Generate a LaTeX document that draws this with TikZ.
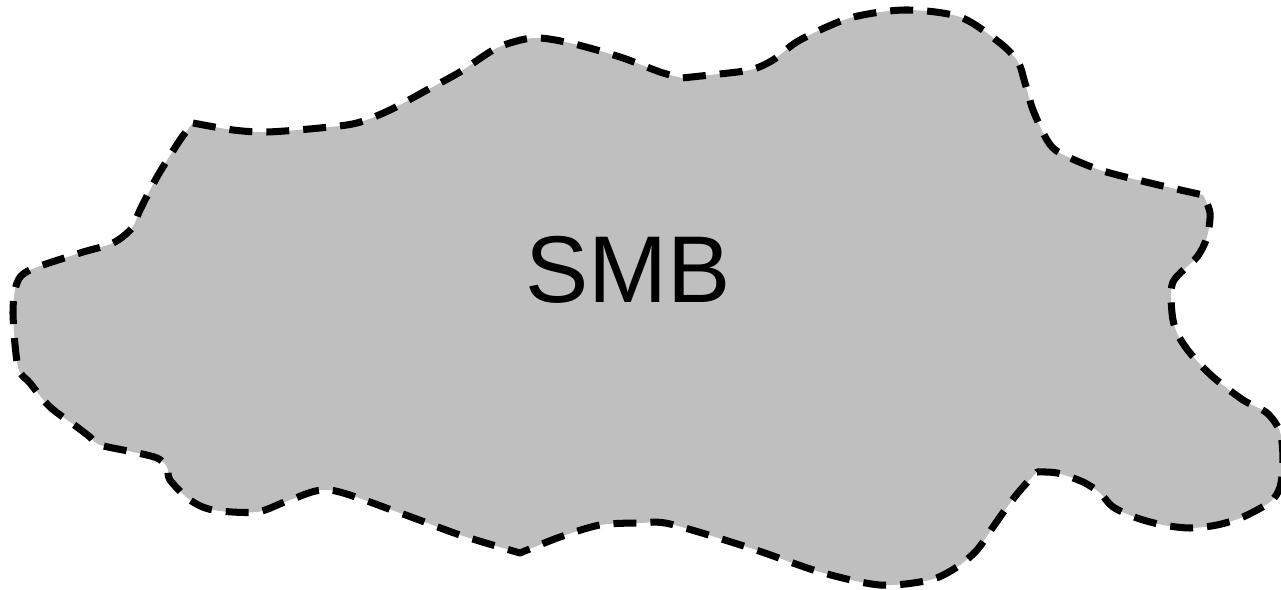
\documentclass[tikz,border=0pt]{standalone}
\usepackage{fontspec}
\setmainfont{Liberation Sans}
\definecolor{smbgray}{gray}{0.75}
\tikzset{
  cloud/.style={fill=smbgray, draw=black, line width=4pt,
    dash pattern=on 0.46cm off 0.28cm, line join=round},
}
\begin{document}
\begin{tikzpicture}[x=0.02cm,y=-0.02cm]
  \useasboundingbox (0,0) rectangle (1281,590);

  % SMB region outline
  \filldraw[cloud]
    plot[smooth] coordinates {(193,123) (233,130) (267,132) (320,128) (357,123)
      (390,110) (427,90) (460,72) (497,48) (533,38) (570,43) (620,57) (660,72) (682,78)}
    -- plot[smooth] coordinates {(682,78) (710,75) (750,70) (773,60) (800,40)
      (850,18) (905,10) (960,17) (1000,43) (1018,62) (1025,83) (1033,110)
      (1047,140) (1060,153) (1100,170) (1150,183) (1203,195)}
    -- plot[smooth] coordinates {(1203,195) (1210,213) (1207,237) (1197,257)
      (1173,282) (1172,313) (1177,333) (1190,353) (1213,377) (1243,400)
      (1267,413) (1280,432) (1283,460) (1280,487) (1270,502) (1243,517)
      (1217,525) (1190,528) (1163,525) (1137,518) (1113,507) (1100,493)
      (1083,482) (1057,473) (1037,472)}
    -- plot[smooth] coordinates {(1037,472) (1023,487) (1010,503) (993,527)
      (977,550) (957,567) (930,580) (880,585) (820,572) (750,548) (670,524)
      (640,523) (600,525) (560,537) (520,553)}
    -- plot[smooth] coordinates {(520,553) (460,535) (400,513) (330,490)
      (290,500) (257,512) (213,510) (190,500) (170,480) (167,467) (157,458)
      (133,452) (100,445) (90,437) (77,427) (50,407) (30,383) (18,367)
      (13,313) (17,283) (30,270) (80,253) (113,243) (132,228) (140,210)
      (157,177) (180,140) (193,123)}
    -- cycle;

  \node (smb) at (628,270) {\fontsize{54}{60}\selectfont SMB};
\end{tikzpicture}
\end{document}
